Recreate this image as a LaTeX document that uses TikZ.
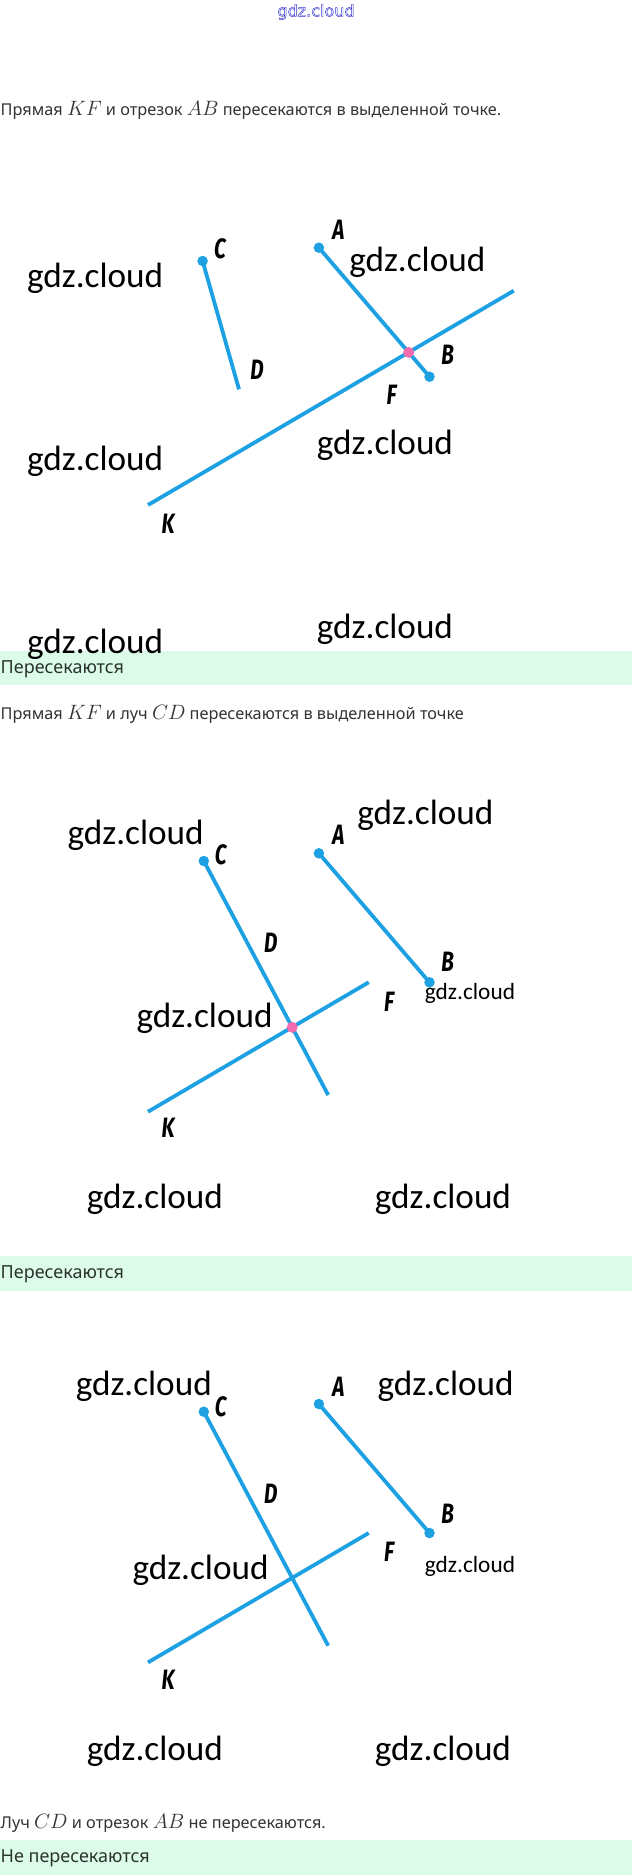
\documentclass[tikz,border=0pt]{standalone}
\usepackage{fontspec}
\setmainfont{Noto Sans}
\newfontfamily\wmfont{Carlito}
\newfontfamily\labfont{Fira Sans}
\newfontfamily\topfont{DejaVu Sans}
\definecolor{lineblue}{HTML}{1DA1E2}
\definecolor{dotpink}{HTML}{F36CB0}
\definecolor{bandgreen}{HTML}{DCFCE9}
\definecolor{txtgray}{HTML}{333333}
\definecolor{anstxt}{HTML}{2A332E}
\definecolor{wmblue}{HTML}{3030D0}
\newcommand\ptlab[1]{\scalebox{0.74}[1]{\labfont\bfseries\itshape #1}}
\newcommand\mth[1]{{\fontsize{20}{20}\selectfont$#1$}}
\tikzset{
  seg/.style={lineblue, line width=3.8pt},
  bdot/.style={circle, fill=lineblue, inner sep=0pt, minimum size=10.5pt},
  pdot/.style={circle, fill=dotpink, inner sep=0pt, minimum size=11pt},
  ptlabel/.style={font=\fontsize{28}{28}\selectfont, inner sep=0pt, text=black},
  wm/.style={font=\wmfont\fontsize{35.2}{35.2}\selectfont, inner sep=0pt, text=black},
  wms/.style={font=\wmfont\fontsize{23.3}{23.3}\selectfont, inner sep=0pt, text=black},
  caption/.style={anchor=west, inner xsep=0.5pt, inner ysep=0pt, font=\fontsize{16.3}{18}\selectfont, text=txtgray},
  answer/.style={anchor=west, inner xsep=0.5pt, inner ysep=0pt, font=\fontsize{18}{20}\selectfont, text=anstxt},
  band/.style={fill=bandgreen, draw=none}
}
\begin{document}
\begin{tikzpicture}[x=1pt,y=-1pt]
\useasboundingbox[fill=white] (0,0) rectangle (632,1875);

% top watermark (outlined)
\node[font=\topfont\fontsize{16}{16}\selectfont, text=wmblue, inner sep=0pt] (wtop) at (316,12)
  {\special{pdf:literal direct 1 Tr 0.45 w}gdz.cloud\special{pdf:literal direct 0 Tr}};

% ---------- captions and answer bands ----------
\node[caption] (t1) at (0,110) {Прямая \mth{KF} и отрезок \mth{AB} пересекаются в выделенной точке.};
\fill[band] (0,651) rectangle (632,685);
\node[answer] (a1) at (0,669.5) {Пересекаются};
\node[caption] (t2) at (0,714) {Прямая \mth{KF} и луч \mth{CD} пересекаются в выделенной точке};
\fill[band] (0,1256) rectangle (632,1291);
\node[answer] (a2) at (0,1274) {Пересекаются};
\node[caption] (t3) at (0,1823) {Луч \mth{CD} и отрезок \mth{AB} не пересекаются.};
\fill[band] (0,1840) rectangle (632,1875);
\node[answer] (a3) at (0,1858) {Не пересекаются};

% ---------- panel 1 ----------
\coordinate (C1) at (202.6,261);
\coordinate (D1) at (239,389.3);
\coordinate (A1) at (318.9,247.7);
\coordinate (B1) at (429.5,376.7);
\coordinate (K1) at (148,505);
\coordinate (E1) at (513.8,290.7);
\coordinate (X1) at (intersection of A1--B1 and K1--E1);
\draw[seg] (C1) -- (D1);
\draw[seg] (A1) -- (B1);
\draw[seg] (K1) -- (E1);
\node[bdot] (c1) at (C1) {};
\node[bdot] (a1d) at (A1) {};
\node[bdot] (b1d) at (B1) {};
\node[pdot] (x1) at (X1) {};
\node[ptlabel] (lC1) at (220,248.3) {\ptlab{C}};
\node[ptlabel] (lA1) at (338.3,230) {\ptlab{A}};
\node[ptlabel] (lB1) at (447.7,354.3) {\ptlab{B}};
\node[ptlabel] (lD1) at (257,369.3) {\ptlab{D}};
\node[ptlabel] (lF1) at (391.5,395) {\ptlab{F}};
\node[ptlabel] (lK1) at (168,523.3) {\ptlab{K}};
\node[wm] (w11) at (95.2,278.3) {gdz.cloud};
\node[wm] (w12) at (417.3,262.7) {gdz.cloud};
\node[wm] (w13) at (95.2,461.7) {gdz.cloud};
\node[wm] (w14) at (385,445) {gdz.cloud};
\node[wm] (w15) at (95.2,644.5) {gdz.cloud};
\node[wm] (w16) at (385,629) {gdz.cloud};

% ---------- panel 2 ----------
\coordinate (C2) at (203.8,861);
\coordinate (R2) at (328.2,1095);
\coordinate (A2) at (318.9,853.3);
\coordinate (B2) at (429.5,982.3);
\coordinate (K2) at (148,1111.7);
\coordinate (F2) at (368.7,982.3);
\coordinate (X2) at (intersection of C2--R2 and K2--F2);
\draw[seg] (C2) -- (R2);
\draw[seg] (A2) -- (B2);
\draw[seg] (K2) -- (F2);
\node[bdot] (c2) at (C2) {};
\node[bdot] (a2d) at (A2) {};
\node[bdot] (b2d) at (B2) {};
\node[pdot] (x2) at (X2) {};
\node[ptlabel] (lC2) at (220.8,855) {\ptlab{C}};
\node[ptlabel] (lA2) at (338.3,835) {\ptlab{A}};
\node[ptlabel] (lD2) at (270.7,942.3) {\ptlab{D}};
\node[ptlabel] (lB2) at (447.7,961.7) {\ptlab{B}};
\node[ptlabel] (lF2) at (389,1001.7) {\ptlab{F}};
\node[ptlabel] (lK2) at (168,1128) {\ptlab{K}};
\node[wm] (w21) at (135.7,835) {gdz.cloud};
\node[wm] (w22) at (425.4,815) {gdz.cloud};
\node[wms] (w23) at (470,993.3) {gdz.cloud};
\node[wm] (w24) at (204.6,1018.3) {gdz.cloud};
\node[wm] (w25) at (155,1199.5) {gdz.cloud};
\node[wm] (w26) at (443,1199.5) {gdz.cloud};

% ---------- panel 3 ----------
\coordinate (C3) at (203.8,1411.7);
\coordinate (R3) at (328.2,1645.7);
\coordinate (A3) at (318.9,1404);
\coordinate (B3) at (429.5,1533);
\coordinate (K3) at (148,1662.4);
\coordinate (F3) at (368.7,1533);
\draw[seg] (C3) -- (R3);
\draw[seg] (A3) -- (B3);
\draw[seg] (K3) -- (F3);
\node[bdot] (c3) at (C3) {};
\node[bdot] (a3d) at (A3) {};
\node[bdot] (b3d) at (B3) {};
\node[ptlabel] (lC3) at (220.8,1406.7) {\ptlab{C}};
\node[ptlabel] (lA3) at (338.3,1386.7) {\ptlab{A}};
\node[ptlabel] (lD3) at (270.7,1493.3) {\ptlab{D}};
\node[ptlabel] (lB3) at (447.7,1513.3) {\ptlab{B}};
\node[ptlabel] (lF3) at (389,1551.7) {\ptlab{F}};
\node[ptlabel] (lK3) at (168,1680) {\ptlab{K}};
\node[wm] (w31) at (143.8,1386.7) {gdz.cloud};
\node[wm] (w32) at (445.7,1386.7) {gdz.cloud};
\node[wms] (w33) at (470,1566.7) {gdz.cloud};
\node[wm] (w34) at (200.6,1570) {gdz.cloud};
\node[wm] (w35) at (155,1751.4) {gdz.cloud};
\node[wm] (w36) at (443,1751.4) {gdz.cloud};
\end{tikzpicture}
\end{document}
